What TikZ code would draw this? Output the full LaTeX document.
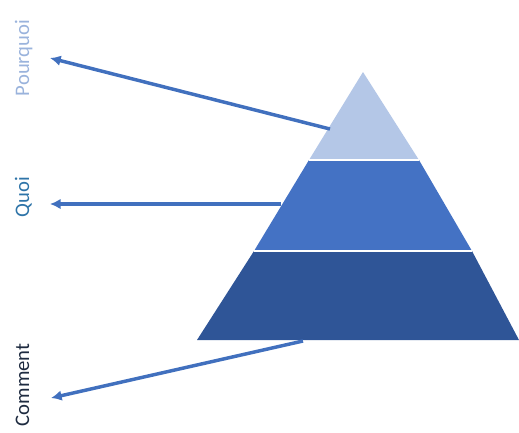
\documentclass[tikz,border=0pt]{standalone}
\usepackage{fontspec}
\setmainfont{Carlito}
\usetikzlibrary{arrows.meta,positioning}

\definecolor{tiertop}{HTML}{B4C7E7}
\definecolor{tiermid}{HTML}{4472C4}
\definecolor{tierlow}{HTML}{2F5597}
\definecolor{arrowblue}{HTML}{4170BE}
\definecolor{lblwhy}{HTML}{9AB3DC}
\definecolor{lblwhat}{HTML}{2E74A8}
\definecolor{lblhow}{HTML}{1E2B40}

\begin{document}
\begin{tikzpicture}[
    x=0.75pt, y=-0.75pt,
    >=Latex,
    every node/.style={font=\fontsize{15.5}{18}\selectfont},
    lbl/.style={rotate=90, anchor=base, inner sep=0pt},
    pointer/.style={draw=arrowblue, line width=2.6pt,
        arrows={-{Latex[length=8pt,width=8pt]}}}
]
\useasboundingbox (0,0) rectangle (519,433);

% pyramid
\fill[tierlow] (197,340) -- (519,340) -- (472,251) -- (254,251) -- cycle;
\fill[tiermid] (254,251) -- (472,251) -- (419,160) -- (309,160) -- cycle;
\fill[tiertop] (309,160) -- (419,160) -- (363,72) -- cycle;
\draw[white, line width=1pt] (254,251) -- (472,251);
\draw[white, line width=1pt] (309,160) -- (419,160);

% labels
\node[lbl, text=lblwhy]  (why)  at (29,58)  {Pourquoi};
\node[lbl, text=lblwhat] (what) at (29,197) {Quoi};
\node[lbl, text=lblhow]  (how)  at (29,385) {Comment};

\coordinate (topedge) at (330,129);
\coordinate (midedge) at (281,204);
\coordinate (lowedge) at (303,341);
\coordinate (whyend)  at (50,58);
\coordinate (whatend) at (50,204);
\coordinate (howend)  at (51,398);

\draw[pointer] (topedge) -- (whyend);
\draw[pointer] (midedge) -- (whatend);
\draw[pointer] (lowedge) -- (howend);

\end{tikzpicture}
\end{document}
